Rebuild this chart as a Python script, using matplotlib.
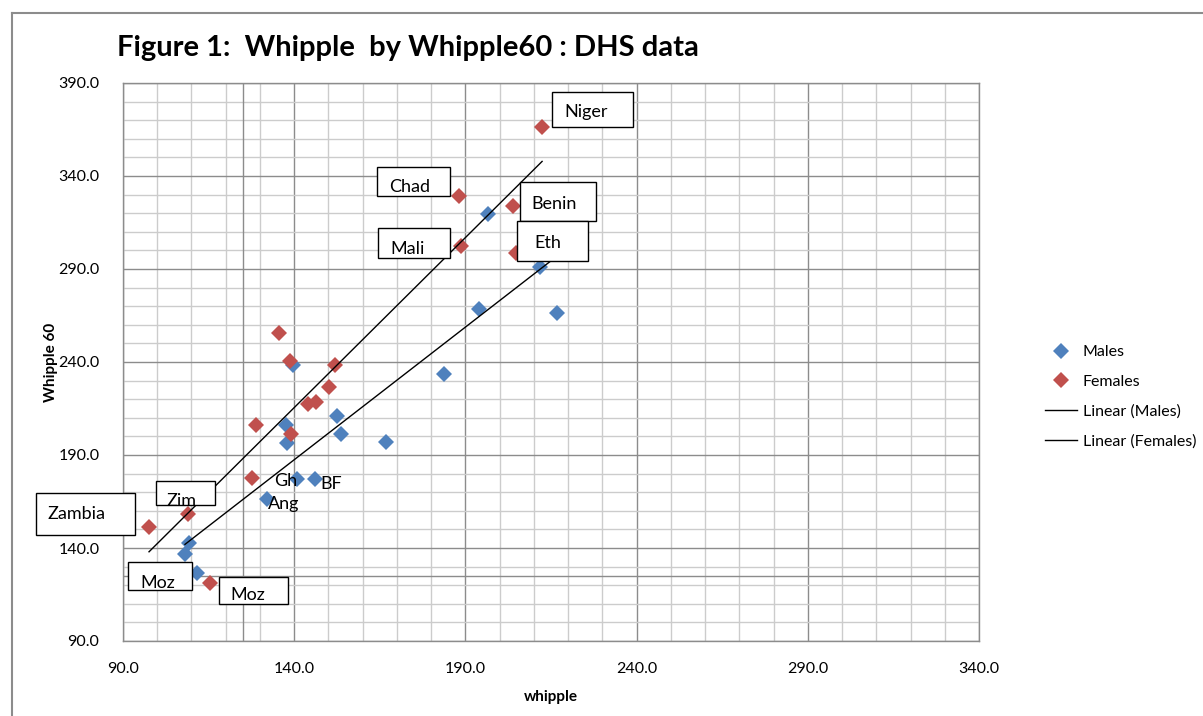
import numpy as np
import matplotlib
matplotlib.use("Agg")
import matplotlib.pyplot as plt
from matplotlib.patches import Rectangle
from matplotlib.lines import Line2D

# ---- data ----
males_x = [211.8, 216.8, 196.6, 194.0, 183.7, 166.8, 153.7, 152.5, 139.6, 137.6,
           137.9, 140.8, 146.0, 132.0, 109.3, 108.1, 111.6]
males_y = [291.0, 266.3, 319.6, 268.5, 233.5, 197.0, 201.3, 211.0, 238.4, 206.0,
           196.5, 177.1, 177.1, 166.3, 142.7, 136.8, 126.6]

females_x = [212.4, 188.1, 203.9, 188.7, 204.8, 135.6, 138.8, 151.9, 150.2, 144.0,
             146.4, 128.8, 139.1, 127.7, 109.0, 97.6, 115.4]
females_y = [366.3, 329.2, 323.9, 302.4, 298.6, 255.6, 240.5, 238.4, 226.6, 217.4,
             218.5, 206.1, 201.3, 177.6, 158.3, 151.3, 121.2]

x_ticks = [90, 140, 190, 240, 290, 340]
y_ticks = [90, 140, 190, 240, 290, 340, 390]

boxed_labels = ["Niger", "Chad", "Benin", "Mali", "Eth", "Zim", "Zambia", "Moz", "Moz"]
plain_labels = ["Gh", "BF", "Ang"]

# ---- layout of annotation boxes (data coords): x0, x1, y0, y1, text x, text y ----
box_pos = [
    (215.3, 238.9, 366.2, 385.1, 218.8, 374.4),
    (164.2, 185.5, 329.1, 344.7, 167.7, 334.1),
    (205.9, 228.1, 315.6, 336.6, 209.4, 324.8),
    (164.5, 185.5, 295.7, 311.9, 168.0, 300.8),
    (205.1, 225.8, 294.1, 315.6, 210.0, 304.0),
    (99.6, 116.9, 163.2, 176.2, 102.6, 165.4),
    (64.6, 93.5, 147.1, 169.7, 67.8, 158.3),
    (91.5, 110.2, 117.5, 132.5, 95.0, 121.2),
    (118.0, 138.2, 109.9, 124.5, 121.5, 114.6),
]
plain_pos = [(134.0, 176.0), (147.6, 174.3), (132.2, 163.5)]

BLUE = "#4F81BD"
RED = "#C0504D"
FONT = ["Lato", "DejaVu Sans"]
plt.rcParams["font.family"] = FONT

fig = plt.figure(figsize=(12.03, 7.16), dpi=100)
ax = fig.add_axes([123 / 1203, 1 - 641 / 716, (979 - 123) / 1203, (641 - 83) / 716])
ax.set_xlim(90, 340)
ax.set_ylim(90, 390)

# grid
for v in np.arange(90, 341, 10):
    major = (v - 90) % 50 == 0
    ax.axvline(v, color="#8c8c8c" if major else "#cccccc", lw=1.0, zorder=0)
for v in np.arange(90, 391, 10):
    major = (v - 90) % 50 == 0
    ax.axhline(v, color="#8c8c8c" if major else "#cccccc", lw=1.0, zorder=0)
ax.axvline(125, color="#8c8c8c", lw=1.0, zorder=0)
ax.axhline(125, color="#8c8c8c", lw=1.0, zorder=0)

for s in ax.spines.values():
    s.set_color("#8c8c8c")
    s.set_linewidth(1.0)

ax.set_xticks(x_ticks)
ax.set_yticks(y_ticks)
ax.set_xticklabels([f"{t:.1f}" for t in x_ticks])
ax.set_yticklabels([f"{t:.1f}" for t in y_ticks])
ax.tick_params(length=0, labelsize=11.5, colors="black")
ax.tick_params(axis="x", pad=15)
ax.tick_params(axis="y", pad=17)

# trend lines
mx = np.array(males_x); my = np.array(males_y)
fx = np.array(females_x); fy = np.array(females_y)
pm = np.polyfit(mx, my, 1)
pf = np.polyfit(fx, fy, 1)
xm = np.array([mx.min(), mx.max()])
xf = np.array([fx.min(), fx.max()])

ax.plot(males_x, males_y, linestyle="none", marker="D", ms=8.5, color=BLUE, mec=BLUE, mew=0, zorder=3, label="Males")
ax.plot(females_x, females_y, linestyle="none", marker="D", ms=8.5, color=RED, mec=RED, mew=0, zorder=3, label="Females")
ax.plot(xm, np.polyval(pm, xm), color="black", lw=1.0, zorder=4, label="Linear (Males)")
ax.plot(xf, np.polyval(pf, xf), color="black", lw=1.0, zorder=4, label="Linear (Females)")

# boxed labels
for lab, (x0, x1, y0, y1, tx, ty) in zip(boxed_labels, box_pos):
    ax.add_patch(Rectangle((x0, y0), x1 - x0, y1 - y0, facecolor="white", edgecolor="black",
                           lw=1.0, zorder=5, clip_on=False))
    ax.text(tx, ty, lab, fontsize=13, ha="left", va="center", zorder=6, clip_on=False)
for lab, (tx, ty) in zip(plain_labels, plain_pos):
    ax.text(tx, ty, lab, fontsize=13, ha="left", va="center", zorder=6)

ax.set_xlabel("whipple", fontsize=11, fontweight="bold", labelpad=10)
ax.set_ylabel("Whipple 60", fontsize=11, fontweight="bold", labelpad=0)

fig.text(117 / 1203, 1 - 48 / 716, "Figure 1:  Whipple  by Whipple60 : DHS data",
         fontsize=21, fontweight="bold", ha="left", va="center")

leg = ax.legend(loc="center left", bbox_to_anchor=(1031 / 1203, 1 - 397 / 716),
                bbox_transform=fig.transFigure, frameon=False, fontsize=11.5,
                labelspacing=0.98, handlelength=2.0, handletextpad=0.35)

# outer chart border
fig.add_artist(Line2D([12 / 1203, 1.0], [1 - 13 / 716, 1 - 13 / 716], color="#8c8c8c", lw=1.5,
                      transform=fig.transFigure))
fig.add_artist(Line2D([12 / 1203, 12 / 1203], [0, 1 - 13 / 716], color="#8c8c8c", lw=1.5,
                      transform=fig.transFigure))

fig.savefig("out.png", dpi=100)
